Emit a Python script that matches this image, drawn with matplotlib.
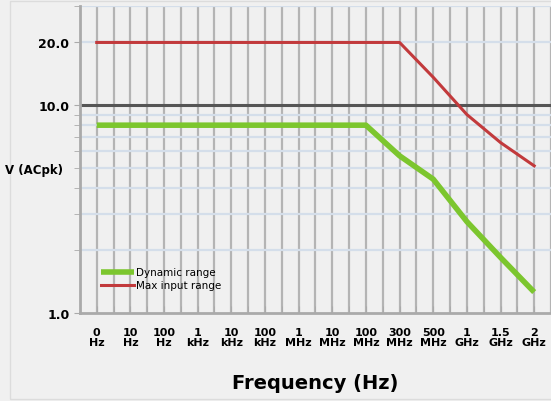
import numpy as np
import matplotlib
matplotlib.use('Agg')
import matplotlib.pyplot as plt
from matplotlib.patches import Rectangle

# tick labels along the frequency axis (evenly spaced categories)
freq_labels = ['0\nHz', '10\nHz', '100\nHz', '1\nkHz', '10\nkHz', '100\nkHz', '1\nMHz',
               '10\nMHz', '100\nMHz', '300\nMHz', '500\nMHz', '1\nGHz', '1.5\nGHz', '2\nGHz']

# values
dynamic_range = [8.0, 8.0, 8.0, 8.0, 8.0, 8.0, 8.0, 8.0, 8.0, 5.7, 4.4, 2.75, 1.85, 1.26]
max_input = [20.0, 20.0, 20.0, 20.0, 20.0, 20.0, 20.0, 20.0, 20.0, 20.0, 13.6, 9.0, 6.6, 5.1]

y_major = [1.0, 10.0, 20.0]
y_minor = [2, 3, 4, 5, 6, 7, 8, 9, 30]

font = ['DejaVu Sans']
bg = '#f0f0f0'

fig = plt.figure(figsize=(5.51, 4.02), dpi=100, facecolor=bg)
fig.patches.append(Rectangle((0.018, 0.005), 0.99, 0.99, transform=fig.transFigure,
                             fill=False, edgecolor='#dcdcdc', lw=1))
ax = fig.add_axes([0.145, 0.219, 0.855, 0.764])
ax.set_facecolor(bg)

x = np.arange(len(freq_labels))
ax.set_yscale('log')
ax.set_ylim(1.0, 30.0)
ax.set_xlim(-0.5, 13.41)

# grid: vertical lines every half step, light blue horizontal minor lines
for gx in np.arange(0, 14, 0.5):
    ax.axvline(gx, color='#b4b4b4', lw=1.6, zorder=1)
for gy in y_minor + [20]:
    ax.axhline(gy, color='#d4deea', lw=1.6, zorder=1)
ax.axhline(10, color='#555555', lw=2.2, zorder=2)

ax.plot(x, dynamic_range, color='#7cc62e', lw=4, solid_capstyle='butt', zorder=4,
        label='Dynamic range')
ax.plot(x, max_input, color='#c23a3c', lw=2.2, zorder=4, label='Max input range')

ax.set_xticks(x)
ax.set_xticklabels(freq_labels, fontfamily=font, fontsize=8, fontweight='bold',
                   linespacing=1.05)
ax.set_xticks(np.arange(-0.5, 13.6, 0.5), minor=True)
ax.tick_params(axis='x', which='both', direction='in', length=5, color='#aaaaaa', pad=10)

ax.set_yticks(y_major)
ax.set_yticklabels(['1.0', '10.0', '20.0'], fontfamily=font, fontsize=9, fontweight='bold')
ax.set_yticks(y_minor, minor=True)
ax.yaxis.set_minor_formatter(matplotlib.ticker.NullFormatter())
ax.tick_params(axis='y', which='both', direction='out', length=4, color='#aaaaaa')

for s in ['top', 'right']:
    ax.spines[s].set_visible(False)
ax.spines['left'].set_color('#aaaaaa')
ax.spines['left'].set_linewidth(2)
ax.spines['bottom'].set_color('#aaaaaa')
ax.spines['bottom'].set_linewidth(2)

fig.text(0.009, 0.577, 'V (ACpk)', fontfamily=font, fontsize=8.5, fontweight='bold',
         va='center', ha='left')
fig.text(0.572, 0.045, 'Frequency (Hz)', fontfamily=font, fontsize=14, fontweight='bold',
         ha='center', va='center')

leg = ax.legend(loc='lower left', bbox_to_anchor=(0.035, 0.06), frameon=False,
                prop={'family': font, 'size': 7.5}, handlelength=3.2,
                handletextpad=0.2, labelspacing=0.3, borderaxespad=0)

fig.savefig('out.png', dpi=100, facecolor=bg)
